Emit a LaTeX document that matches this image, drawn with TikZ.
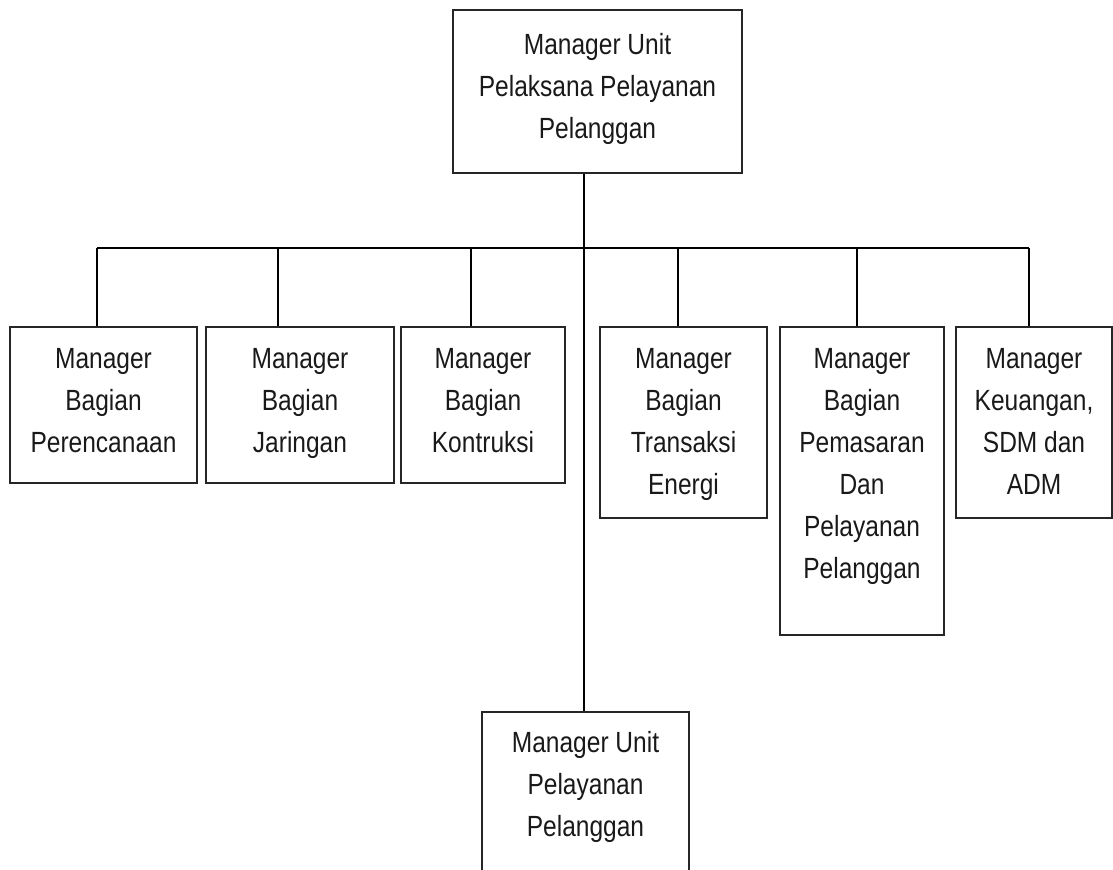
\documentclass[tikz,border=0pt]{standalone}
\usepackage{fontspec}
\setmainfont{Liberation Sans}[FakeStretch=0.84]
\usepackage{tikz}
\usetikzlibrary{positioning}

\begin{document}
\begin{tikzpicture}[x=0.5pt,y=-0.5pt,line width=1pt,
      font=\fontsize{14.6}{21}\selectfont,
      box/.style 2 args={draw=black!85,anchor=north west,inner sep=0pt,
        minimum width=0.5pt*#1,minimum height=0.5pt*#2},
      lbl/.style={anchor=north,inner sep=0pt,align=center,text=black!90}]
    \clip (0,0) rectangle (1113,870);
    % boxes
    \node[box={289}{163}] (top) at (452,9)   {};
    \node[box={187}{156}] (b1)  at (9,326)   {};
    \node[box={188}{156}] (b2)  at (205,326) {};
    \node[box={164}{156}] (b3)  at (400,326) {};
    \node[box={167}{191}] (b4)  at (599,326) {};
    \node[box={164}{308}] (b5)  at (779,326) {};
    \node[box={156}{191}] (b6)  at (955,326) {};
    \node[box={207}{240}] (bot) at (481,711) {};
    % texts
    \node[lbl] (ttop) at ([yshift=-11.5pt]top.north) {Manager Unit\\Pelaksana Pelayanan\\Pelanggan};
    \node[lbl] (t1) at ([yshift=-10.5pt]b1.north) {Manager\\Bagian\\Perencanaan};
    \node[lbl] (t2) at ([yshift=-10.5pt]b2.north) {Manager\\Bagian\\Jaringan};
    \node[lbl] (t3) at ([yshift=-10.5pt]b3.north) {Manager\\Bagian\\Kontruksi};
    \node[lbl] (t4) at ([yshift=-10.5pt]b4.north) {Manager\\Bagian\\Transaksi\\Energi};
    \node[lbl] (t5) at ([yshift=-10.5pt]b5.north) {Manager\\Bagian\\Pemasaran\\Dan\\Pelayanan\\Pelanggan};
    \node[lbl] (t6) at ([yshift=-10.5pt]b6.north) {Manager\\Keuangan,\\SDM dan\\ADM};
    \node[lbl] (tbot) at ([yshift=-9.5pt]bot.north) {Manager Unit\\Pelayanan\\Pelanggan};
    % connectors
    \coordinate (d0) at (584,248);
    \coordinate (d1) at (97,248);
    \coordinate (d2) at (278,248);
    \coordinate (d3) at (471,248);
    \coordinate (d4) at (678,248);
    \coordinate (d5) at (857,248);
    \coordinate (d6) at (1029,248);
    \draw (top.south -| d0) -- (bot.north -| d0);
    \draw (d1) -- (d6);
    \foreach \i in {1,...,6}
      \draw (d\i) -- (d\i |- b\i.north);
  \end{tikzpicture}
\end{document}
